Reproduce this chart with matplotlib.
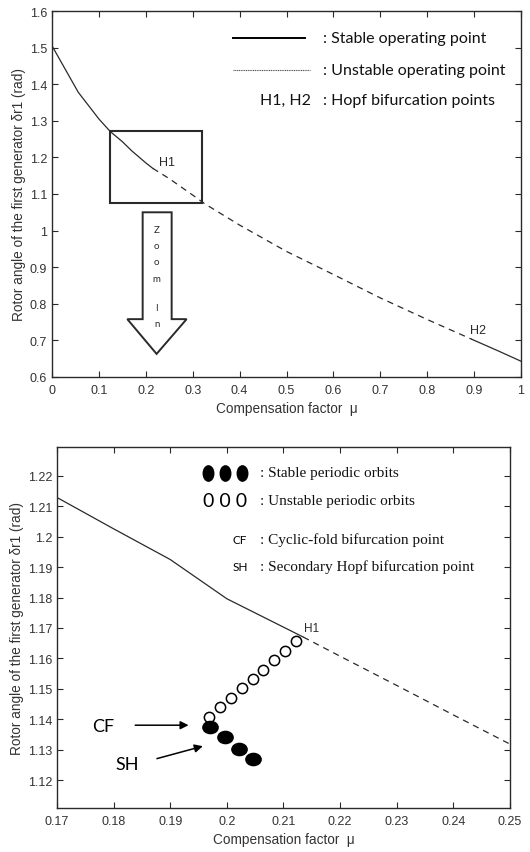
import numpy as np
import matplotlib
matplotlib.use("Agg")
import matplotlib.pyplot as plt
from matplotlib.patches import Rectangle, Polygon
from matplotlib.path import Path
from matplotlib.transforms import Affine2D

# --- top panel: equilibrium branch over the full range of mu
mu_full = [0, 0.056, 0.10, 0.124, 0.15, 0.17, 0.20, 0.215, 0.25, 0.30, 0.326,
           0.40, 0.50, 0.60, 0.70, 0.80, 0.895, 0.95, 1.0]
delta_full = [1.505, 1.378, 1.305, 1.271, 1.243, 1.218, 1.185, 1.170, 1.142, 1.097,
              1.073, 1.015, 0.943, 0.880, 0.816, 0.757, 0.703, 0.672, 0.643]
mu_h1_full, mu_h2_full = 0.215, 0.895

# --- bottom panel: zoom around H1
mu_zoom = [0.17, 0.18, 0.19, 0.20, 0.2135, 0.22, 0.23, 0.24, 0.25]
delta_zoom = [1.2129, 1.2026, 1.1925, 1.1796, 1.1670, 1.1607, 1.1511, 1.1414, 1.1318]
mu_h1_zoom = 0.2135

# unstable periodic orbits (open circles)
mu_upo = [0.19676, 0.19876, 0.20071, 0.20271, 0.20459, 0.20647, 0.20835, 0.21029, 0.21224]
delta_upo = [1.1408, 1.1440, 1.1470, 1.1501, 1.1532, 1.1563, 1.1594, 1.1625, 1.1658]
# stable periodic orbits (filled)
mu_spo = [0.19706, 0.19959, 0.20206, 0.20459]
delta_spo = [1.1373, 1.1340, 1.1303, 1.1268]

top_xticks = np.round(np.arange(0, 1.01, 0.1), 2)
top_yticks = np.round(np.arange(0.6, 1.61, 0.1), 2)
bot_xticks = np.round(np.arange(0.17, 0.2501, 0.01), 2)
bot_yticks = np.round(np.arange(1.12, 1.2201, 0.01), 2)

INK = "#2a2a2a"
SANS = "Liberation Sans"
CAL = "Lato"
SERIF = "Liberation Serif"
ylab = "Rotor angle of the first generator \u03b4r1 (rad)"
xlab = "Compensation factor  \u03bc"

plt.rcParams["font.family"] = SANS
plt.rcParams["xtick.direction"] = "in"
plt.rcParams["ytick.direction"] = "in"

fig = plt.figure(figsize=(5.3, 8.53), dpi=100)
ax1 = fig.add_axes([0.0981, 0.5569, 0.885, 0.429])
ax2 = fig.add_axes([0.1075, 0.0516, 0.8547, 0.4232])


def style(ax, xt, yt):
    ax.set_xticks(xt)
    ax.set_yticks(yt)
    ax.set_xticklabels([f"{v:g}" for v in xt])
    ax.set_yticklabels([f"{v:g}" for v in yt])
    ax.tick_params(top=True, right=True, length=4, width=0.8, colors=INK,
                   labelsize=9, labelcolor="#333333")
    ax.tick_params(axis="x", pad=5)
    for s in ax.spines.values():
        s.set_linewidth(1.0)
        s.set_color(INK)
    ax.set_xlabel(xlab, fontsize=9.8, color="#333333", labelpad=4)
    ax.set_ylabel(ylab, fontsize=9.8, color="#333333", labelpad=3)


def split(mu, d, lo, hi):
    mu, d = np.asarray(mu), np.asarray(d)
    a = mu <= lo
    b = (mu >= lo) & (mu <= hi)
    c = mu >= hi
    return (mu[a], d[a]), (mu[b], d[b]), (mu[c], d[c])


# ---------------- top panel
s1, u1, s2 = split(mu_full, delta_full, mu_h1_full, mu_h2_full)
ax1.plot(*s1, color=INK, lw=0.9)
ax1.plot(*u1, color=INK, lw=0.9, ls=(0, (5, 4)))
ax1.plot(*s2, color=INK, lw=0.9)
ax1.set_xlim(0, 1)
ax1.set_ylim(0.6, 1.6)
style(ax1, top_xticks, top_yticks)

ax1.text(0.245, 1.187, "H1", fontsize=9, ha="center", va="center", color=INK)
ax1.text(0.908, 0.728, "H2", fontsize=9, ha="center", va="center", color=INK)

# zoom box and outlined arrow
ax1.add_patch(Rectangle((0.1237, 1.0754), 0.3205 - 0.1237, 1.271 - 1.0754,
                        fill=False, ec=INK, lw=1.5))
arrow = [(0.1933, 1.050), (0.2551, 1.050), (0.2551, 0.758), (0.287, 0.758),
         (0.223, 0.663), (0.1606, 0.758), (0.1933, 0.758)]
ax1.add_patch(Polygon(arrow, closed=True, fc="white", ec=INK, lw=1.4))
for ch, y in zip("ZoomIn", [1.0025, 0.959, 0.915, 0.870, 0.790, 0.745]):
    ax1.text(0.223, y, ch, fontsize=7, ha="center", va="center",
             color=INK, family=CAL)

# legend (drawn by hand)
t = ax1.transAxes
ax1.plot([0.386, 0.539], [0.926, 0.926], color="black", lw=1.4, transform=t)
ax1.plot([0.386, 0.551], [0.839, 0.839], color="#555555", lw=0.8,
         ls=(0, (1, 0.6)), transform=t)
ax1.text(0.552, 0.757, "H1, H2", transform=t, ha="right", va="center",
         fontsize=11.5, family=CAL, color="#111111")
for y, s in [(0.926, ": Stable operating point"),
             (0.839, ": Unstable operating point"),
             (0.757, ": Hopf bifurcation points")]:
    ax1.text(0.578, y, s, transform=t, ha="left", va="center",
             fontsize=11.5, family=CAL, color="#111111")

# ---------------- bottom panel
s1, u1, _ = split(mu_zoom, delta_zoom, mu_h1_zoom, 1.0)
ax2.plot(*s1, color=INK, lw=0.9)
ax2.plot(*u1, color=INK, lw=0.9, ls=(0, (5, 4)))

ell_h = Path.unit_circle().transformed(Affine2D().scale(1.25, 1.0))
ell_v = Path.unit_circle().transformed(Affine2D().scale(1.0, 1.45))

ax2.plot(mu_upo, delta_upo, ls="none", marker="o", ms=7.4, mfc="white",
         mec="black", mew=1.1)
ax2.plot(mu_spo, delta_spo, ls="none", marker=ell_h, ms=11, mfc="black",
         mec="black")
ax2.set_xlim(0.17, 0.25)
ax2.set_ylim(1.1108, 1.2295)
style(ax2, bot_xticks, bot_yticks)

ax2.text(0.215, 1.1699, "H1", fontsize=8.5, ha="center", va="center", color=INK)

ax2.text(0.1781, 1.1378, "CF", fontsize=13, ha="center", va="center", family=CAL)
ax2.text(0.1824, 1.1253, "SH", fontsize=13, ha="center", va="center", family=CAL)
ax2.annotate("", xy=(0.19324, 1.13802), xytext=(0.18382, 1.13802),
             arrowprops=dict(arrowstyle="-|>", color="black", lw=1.1,
                             mutation_scale=12, shrinkA=0, shrinkB=0))
ax2.annotate("", xy=(0.19576, 1.13112), xytext=(0.18765, 1.12703),
             arrowprops=dict(arrowstyle="-|>", color="black", lw=1.1,
                             mutation_scale=12, shrinkA=0, shrinkB=0))

# legend (drawn by hand)
t = ax2.transAxes
ax2.plot([0.333, 0.371, 0.408], [0.928] * 3, ls="none", marker=ell_v, ms=11,
         mfc="black", mec="black", transform=t)
ax2.text(0.371, 0.851, "0 0 0", transform=t, ha="center", va="center",
         fontsize=14, family=CAL)
ax2.text(0.404, 0.745, "CF", transform=t, ha="center", va="center",
         fontsize=8.5, family=CAL)
ax2.text(0.404, 0.668, "SH", transform=t, ha="center", va="center",
         fontsize=8.5, family=CAL)
for y, s in [(0.928, ": Stable periodic orbits"),
             (0.853, ": Unstable periodic orbits"),
             (0.745, ": Cyclic-fold bifurcation point"),
             (0.670, ": Secondary Hopf bifurcation point")]:
    ax2.text(0.448, y, s, transform=t, ha="left", va="center",
             fontsize=11, family=SERIF, color="#111111")

fig.savefig("out.png", dpi=100)
